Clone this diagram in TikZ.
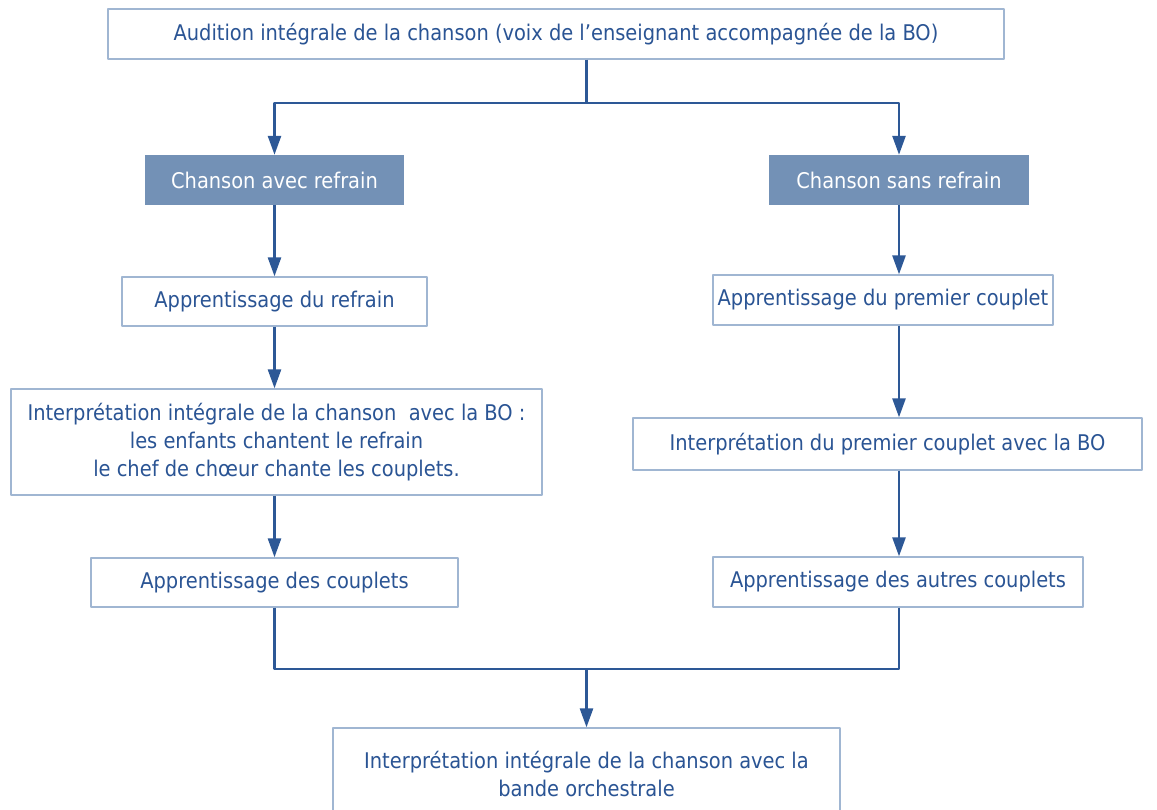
\documentclass[tikz,border=0pt]{standalone}
\usepackage{fontspec}
\setmainfont{DejaVu Sans Condensed}
\usetikzlibrary{arrows.meta}
\definecolor{fleche}{RGB}{45,88,150}
\definecolor{texte}{RGB}{42,84,148}
\definecolor{bord}{RGB}{160,182,210}
\definecolor{fond}{RGB}{115,145,182}
\begin{document}
\begin{tikzpicture}[x=1pt,y=-1pt,>={Triangle[length=19pt,width=13pt]},
    font=\fontsize{21.6}{28}\selectfont, line join=round,
    etape/.style={draw=bord, line width=1.3pt, fill=white, text=texte, align=center, inner sep=0pt},
    titre/.style={fill=fond, text=white, align=center, inner sep=0pt},
    lien/.style={draw=fleche, line width=2.6pt}]
    \useasboundingbox (0,0) rectangle (1157,809);
    \node[etape, minimum width=896pt, minimum height=50pt] (audition) at (556,34)
        {Audition intégrale de la chanson (voix de l’enseignant accompagnée de la BO)};
    \node[titre, minimum width=259pt, minimum height=50pt] (avec) at (274.5,180) {Chanson avec refrain};
    \node[titre, minimum width=260pt, minimum height=50pt] (sans) at (899,180) {Chanson sans refrain};
    % colonne de gauche
    \node[etape, minimum width=305pt, minimum height=49pt] (refrain) at (274.5,301.5) {Apprentissage du refrain};
    \node[etape, minimum width=531pt, minimum height=106pt] (integrale) at (276.5,442)
        {Interprétation intégrale de la chanson\ \ avec la BO :\\les enfants chantent le refrain\\le chef de chœur chante les couplets.};
    \node[etape, minimum width=367pt, minimum height=49pt] (couplets) at (274.5,582.5) {Apprentissage des couplets};
    % colonne de droite
    \node[etape, minimum width=340pt, minimum height=50pt] (premier) at (883,300) {Apprentissage du premier couplet};
    \node[etape, minimum width=509pt, minimum height=52pt] (interpremier) at (887.5,444) {Interprétation du premier couplet avec la BO};
    \node[etape, minimum width=370pt, minimum height=50pt] (autres) at (898,582) {Apprentissage des autres couplets};
    % fin
    \node[etape, minimum width=507pt, minimum height=92pt] (finale) at (586.5,774)
        {Interprétation intégrale de la chanson avec la\\bande orchestrale};
    \coordinate (partage) at (586.5,103);
    \coordinate (reunion) at (586.5,669);
    % liens
    \draw[lien] (audition.south -| partage) -- (partage);
    \draw[lien,->] (partage) -| (avec.north);
    \draw[lien,->] (partage) -| (sans.north);
    \draw[lien,->] (avec) -- (refrain);
    \draw[lien,->] (refrain.south) -- (refrain.south |- integrale.north);
    \draw[lien,->] (integrale.south -| couplets) -- (couplets);
    \draw[lien,->] (sans) -- (sans |- premier.north);
    \draw[lien,->] (premier.south -| sans) -- (interpremier.north -| sans);
    \draw[lien,->] (interpremier.south -| sans) -- (autres.north -| sans);
    \draw[lien] (couplets.south) |- (reunion);
    \draw[lien] (autres.south -| sans) |- (reunion);
    \draw[lien,->] (reunion) -- (finale.north);
\end{tikzpicture}
\end{document}
